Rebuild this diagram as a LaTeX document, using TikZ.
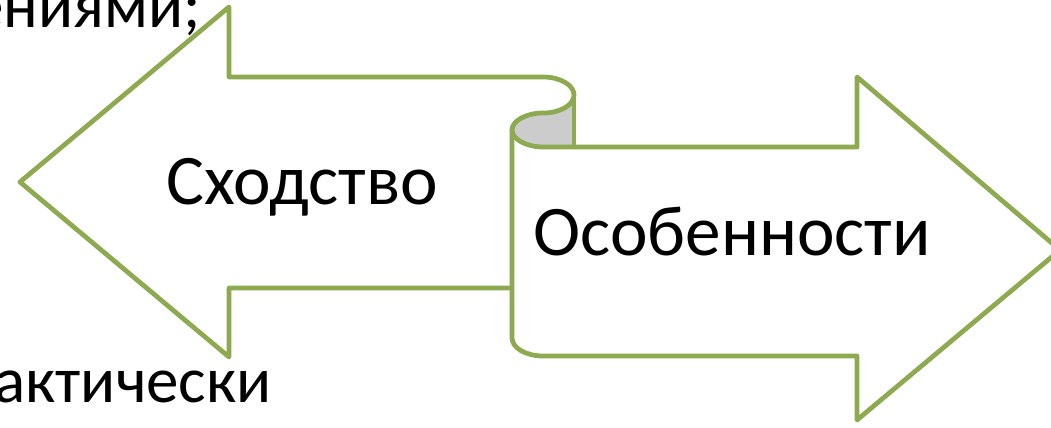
\documentclass[tikz,border=0pt]{standalone}
\usepackage{fontspec}
\setmainfont{Carlito}
\definecolor{olive}{RGB}{141,170,80}
\definecolor{curl}{RGB}{204,204,204}
\tikzset{outline/.style={draw=olive, line width=2.7pt, line join=round},
  side/.style={anchor=base east, inner sep=0pt, font=\fontsize{37}{40}\selectfont}}

\begin{document}
\begin{tikzpicture}[x=0.02cm, y=-0.02cm, font=\fontsize{40.5}{44}\selectfont]
\clip (0, 0) rectangle (1051, 428);

\fill[curl] (574, 95) .. controls (574, 105) and (560, 113) .. (543, 113) .. controls (526, 113) and (512, 121) .. (512, 130) .. controls (512, 139) and (526, 147) .. (543, 147) -- (574, 147) -- cycle;

\draw[outline] (512, 288) -- (229, 288) -- (229, 357) -- (20, 182) -- (229, 7) -- (229, 77) -- (543, 77) .. controls (560, 77) and (574, 85) .. (574, 95) .. controls (574, 105) and (560, 113) .. (543, 113) .. controls (526, 113) and (512, 121) .. (512, 130) .. controls (512, 139) and (526, 147) .. (543, 147);
\draw[outline] (574, 95) -- (574, 147);
\draw[outline] (543, 147) -- (857, 147) -- (857, 77) -- (1060, 250) -- (857, 420) -- (857, 356) -- (543, 356) .. controls (526, 356) and (512, 348) .. (512, 338) -- (512, 130);

\node[anchor=base] (sim) at (302, 205) {Сходство};
\node[anchor=base] (feat) at (732, 256) {Особенности};
\node[side] (top) at (201, 28) {ениями;};
\node[side] (bot) at (272, 403) {рактически};
\end{tikzpicture}
\end{document}
